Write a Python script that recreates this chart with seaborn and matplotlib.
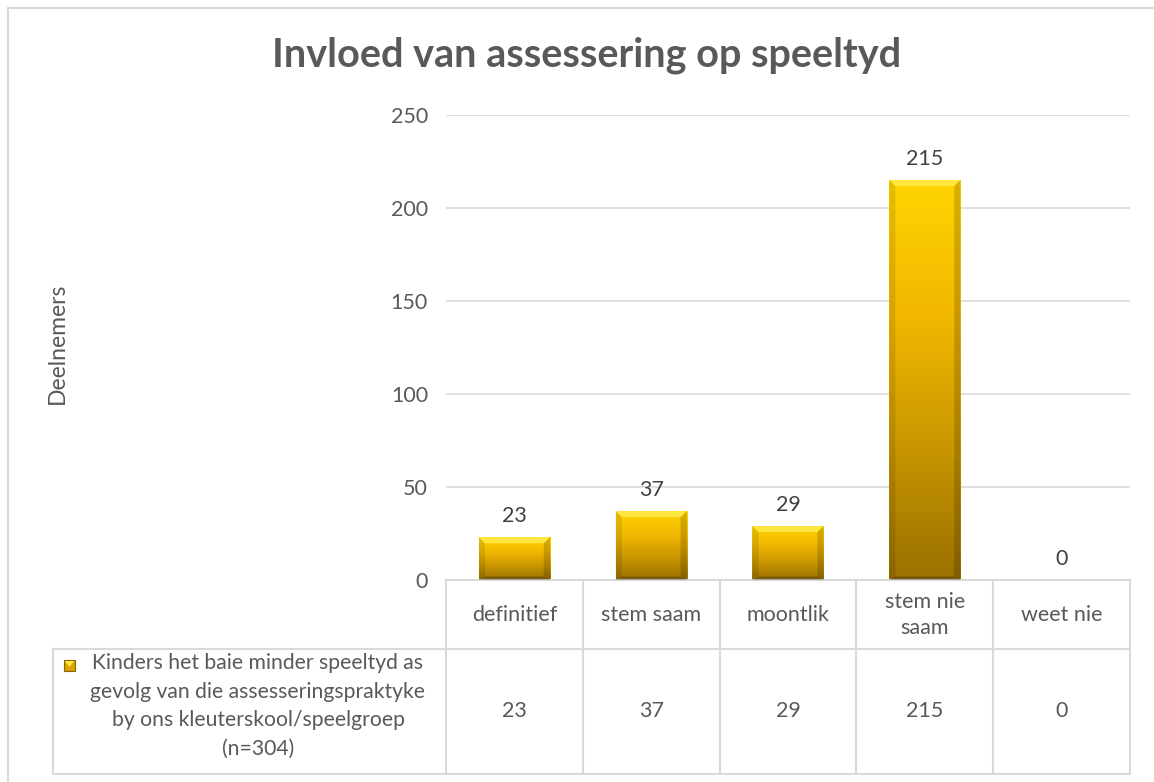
import numpy as np
import matplotlib
matplotlib.use('Agg')
import matplotlib.pyplot as plt
from matplotlib.colors import LinearSegmentedColormap
from matplotlib.patches import Polygon, Rectangle
import seaborn as sns

# data
categories = ['definitief', 'stem saam', 'moontlik', 'stem nie saam', 'weet nie']
header_labels = ['definitief', 'stem saam', 'moontlik', 'stem nie\nsaam', 'weet nie']
values = [23, 37, 29, 215, 0]
series_label = ('Kinders het baie minder speeltyd as\ngevolg van die assesseringspraktyke\n'
                'by ons kleuterskool/speelgroep\n(n=304)')
yticks = [0, 50, 100, 150, 200, 250]
title = 'Invloed van assessering op speeltyd'
ylabel = 'Deelnemers'

W, H = 1154, 782
grid_col = '#d9d9d9'
txt_col = '#595959'
fs = 15.5

sns.set_theme(style='white')
plt.rcParams['font.family'] = ['Lato', 'DejaVu Sans']

fig = plt.figure(figsize=(W / 100, H / 100), dpi=100)
fig.patch.set_facecolor('white')

# plot area in pixel coords
px_l, px_r, px_t, px_b = 446, 1130, 115, 580
ax = fig.add_axes([px_l / W, 1 - px_b / H, (px_r - px_l) / W, (px_b - px_t) / H])

sns.barplot(x=categories, y=values, ax=ax, width=0.52, color='#F0B400', saturation=1)

gold = LinearSegmentedColormap.from_list('gold', ['#9A7000', '#C99700', '#F2B800', '#FFD400'])
grad = np.linspace(0, 1, 256).reshape(-1, 1)
for p in ax.patches:
    x, w, h = p.get_x(), p.get_width(), p.get_height()
    if h <= 0:
        p.set_visible(False)
        continue
    p.set_facecolor('none')
    p.set_edgecolor('none')
    im = ax.imshow(grad, cmap=gold, extent=[x, x + w, 0, h], origin='lower',
                   aspect='auto', zorder=2)
    im.set_clip_path(p)
    # bevel
    bx, by = 0.045, 3.2
    ax.add_patch(Polygon([[x, h], [x + w, h], [x + w - bx, h - by], [x + bx, h - by]],
                         closed=True, facecolor='#FFE640', edgecolor='none', zorder=3))
    ax.add_patch(Polygon([[x, 0], [x + bx, by * 0.6], [x + bx, h - by], [x, h]],
                         closed=True, facecolor='black', alpha=0.10, edgecolor='none', zorder=3))
    ax.add_patch(Polygon([[x + w, 0], [x + w - bx, by * 0.6], [x + w - bx, h - by], [x + w, h]],
                         closed=True, facecolor='black', alpha=0.16, edgecolor='none', zorder=3))
    ax.add_patch(Polygon([[x, 0], [x + w, 0], [x + w - bx, by * 0.6], [x + bx, by * 0.6]],
                         closed=True, facecolor='black', alpha=0.22, edgecolor='none', zorder=3))

for i, v in enumerate(values):
    ax.text(i, v + 6, str(v), ha='center', va='bottom', fontsize=fs, color='#404040', zorder=4)

ax.set_xlim(-0.5, len(categories) - 0.5)
ax.set_ylim(0, 250)
ax.set_yticks(yticks)
ax.set_yticklabels([str(t) for t in yticks], fontsize=fs, color=txt_col)
ax.set_xticks([])
ax.set_xlabel('')
ax.set_ylabel('')
ax.tick_params(axis='y', length=0, pad=13)
ax.grid(axis='y', color=grid_col, lw=1.2, zorder=0)
ax.set_axisbelow(True)
for s in ['top', 'right', 'left']:
    ax.spines[s].set_visible(False)
ax.spines['bottom'].set_color(grid_col)
ax.spines['bottom'].set_linewidth(1.5)

# overlay in pixel coords for title, border and data table
ov = fig.add_axes([0, 0, 1, 1], zorder=-1)
ov.set_xlim(0, W)
ov.set_ylim(H, 0)
ov.axis('off')

ov.plot([8, W], [8, 8], color=grid_col, lw=1.5)
ov.plot([8, 8], [8, H], color=grid_col, lw=1.5)

ov.text(W / 2 + 10, 55, title, ha='center', va='center', fontsize=28.5,
        fontweight='bold', color=txt_col)
ov.text(57, 343, ylabel, ha='center', va='center', rotation=90, fontsize=16.5, color=txt_col)

col_w = (px_r - px_l) / len(categories)
edges = [px_l + i * col_w for i in range(len(categories) + 1)]
row_mid, row_bot = 649, 774
for xe in edges:
    ov.plot([xe, xe], [px_b, row_bot], color=grid_col, lw=1.5)
ov.plot([53, px_r], [row_mid, row_mid], color=grid_col, lw=1.5)
ov.plot([53, px_r], [row_bot, row_bot], color=grid_col, lw=1.5)
ov.plot([53, 53], [row_mid, row_bot], color=grid_col, lw=1.5)

for i, (lab, v) in enumerate(zip(header_labels, values)):
    cx = edges[i] + col_w / 2
    ov.text(cx, 615, lab, ha='center', va='center', fontsize=fs, color=txt_col,
            linespacing=1.4)
    ov.text(cx, 711, str(v), ha='center', va='center', fontsize=fs, color=txt_col)

ov.text(258, 706, series_label, ha='center', va='center', fontsize=15.2, color=txt_col,
        linespacing=1.55)
ov.add_patch(Rectangle((64, 660), 11, 11, facecolor='#D9A400', edgecolor='#8A6400', lw=0.8))
ov.add_patch(Polygon([[65, 661], [74, 661], [69.5, 667]], closed=True,
                     facecolor='#FFE640', edgecolor='none'))

fig.savefig('out.png', dpi=100, facecolor='white')
